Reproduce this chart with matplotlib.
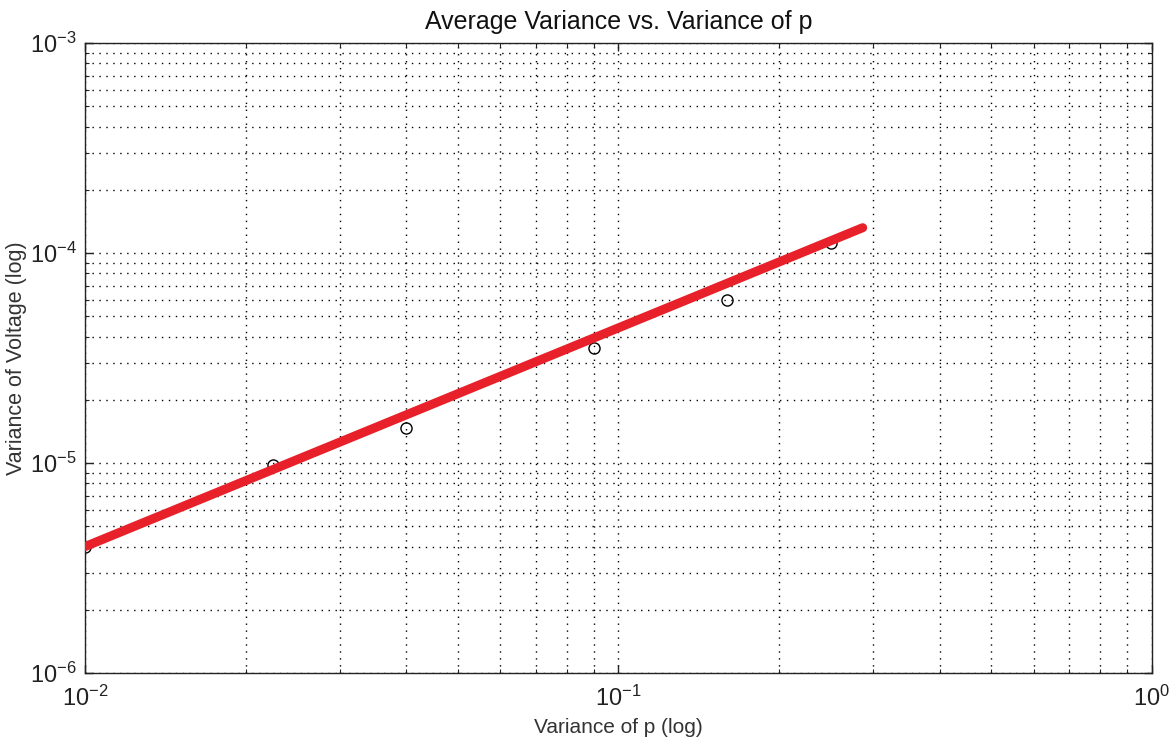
# variance plot, log-log
from matplotlib import pyplot as plt
import numpy as np

plt.rcParams['font.family'] = ['Liberation Sans', 'DejaVu Sans']
plt.rcParams['mathtext.fontset'] = 'custom'
plt.rcParams['mathtext.rm'] = 'Liberation Sans'
plt.rcParams['mathtext.it'] = 'Liberation Sans'

# measured points
var_p = [0.01, 0.0225, 0.04, 0.09, 0.16, 0.25]
var_v = [4.0e-6, 9.8e-6, 1.47e-5, 3.53e-5, 5.97e-5, 1.12e-4]

# fitted line (end points)
fit_x = [0.01, 0.287]
fit_y = [4.0e-6, 1.32e-4]

x_ticks = [1e-2, 1e-1, 1e0]
x_labels = ['$10^{-2}$', '$10^{-1}$', '$10^{0}$']
y_ticks = [1e-6, 1e-5, 1e-4, 1e-3]
y_labels = ['$10^{-6}$', '$10^{-5}$', '$10^{-4}$', '$10^{-3}$']

fig = plt.figure(figsize=(11.73, 7.42), dpi=100)
ax = fig.add_axes([0.0725, 0.093, 0.9095, 0.849])

ax.plot(fit_x, fit_y, color='#e8202a', linewidth=6.5, solid_capstyle='round', zorder=3)
ax.plot(var_p, var_v, linestyle='none', marker='o', markersize=8,
        markerfacecolor='none', markeredgecolor='black', markeredgewidth=1, zorder=2)

ax.set_xscale('log')
ax.set_yscale('log')
ax.set_xlim(1e-2, 1e0)
ax.set_ylim(1e-6, 1e-3)

ax.set_xticks(x_ticks)
ax.set_xticklabels(x_labels)
ax.set_yticks(y_ticks)
ax.set_yticklabels(y_labels)

# matlab style grid
ax.grid(True, which='both', color='black', linestyle=(0, (1, 4)), linewidth=1.0)
ax.tick_params(which='both', direction='in', top=True, right=True, colors='#222222')
ax.tick_params(which='major', length=6, width=1, labelsize=17, pad=6)
ax.tick_params(which='minor', length=3, width=0.8)
ax.tick_params(axis='x', which='major', pad=9)
for s in ax.spines.values():
    s.set_color('#222222')
    s.set_linewidth(1)

ax.set_title('Average Variance vs. Variance of p', fontsize=18, pad=10, color='#111111')
ax.set_xlabel('Variance of p (log)', fontsize=15, color='#333333', labelpad=5)
ax.set_ylabel('Variance of Voltage (log)', fontsize=15.5, color='#333333', labelpad=2)

plt.savefig('out.png', dpi=100)
